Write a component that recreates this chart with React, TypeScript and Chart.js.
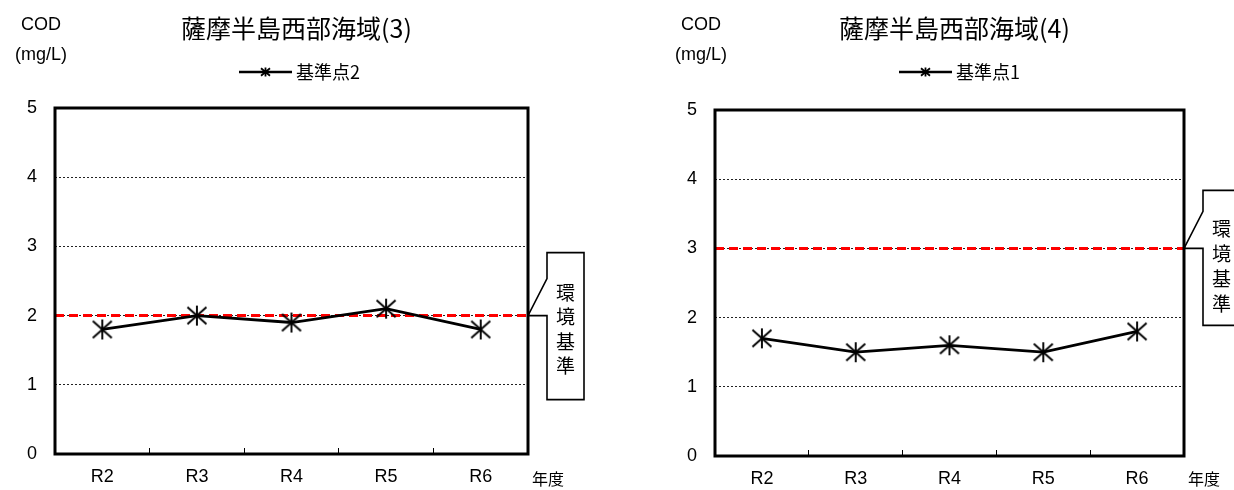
import React, { useEffect, useRef } from 'react';
import { Chart, registerables } from 'chart.js';

Chart.register(...registerables);

// ---- data ----
const YEARS = ['R2', 'R3', 'R4', 'R5', 'R6'];
const Y_MIN = 0;
const Y_MAX = 5;
const Y_STEP = 1;

const TITLE_LEFT = '薩摩半島西部海域(3)';
const SERIES_LEFT = '基準点2';
const VALUES_LEFT = [1.8, 2.0, 1.9, 2.1, 1.8];
const STANDARD_LEFT = 2;

const TITLE_RIGHT = '薩摩半島西部海域(4)';
const SERIES_RIGHT = '基準点1';
const VALUES_RIGHT = [1.7, 1.5, 1.6, 1.5, 1.8];
const STANDARD_RIGHT = 3;

const Y_UNIT_LINES = ['COD', '(mg/L)'];
const X_UNIT_LABEL = '年度';
const STANDARD_LABEL = '環境基準';

const CJK = '"Noto Sans CJK JP", "Noto Sans CJK SC", sans-serif';
const LATIN = '"Liberation Sans", Arial, sans-serif';

function makeAsterisk(r: number, dx: number, dy: number, lw: number) {
  const size = Math.ceil(2 * r + lw + 4);
  const c = document.createElement('canvas');
  c.width = size;
  c.height = size;
  const g = c.getContext('2d')!;
  const m = size / 2;
  g.strokeStyle = '#000';
  g.lineWidth = lw;
  g.beginPath();
  g.moveTo(m, m - r);
  g.lineTo(m, m + r);
  g.moveTo(m - dx, m - dy);
  g.lineTo(m + dx, m + dy);
  g.moveTo(m + dx, m - dy);
  g.lineTo(m - dx, m + dy);
  g.stroke();
  return c;
}

function drawStar(ctx: CanvasRenderingContext2D, x: number, y: number, r: number, dx: number, dy: number, lw: number) {
  ctx.save();
  ctx.strokeStyle = '#000';
  ctx.lineWidth = lw;
  ctx.beginPath();
  ctx.moveTo(x, y - r);
  ctx.lineTo(x, y + r);
  ctx.moveTo(x - dx, y - dy);
  ctx.lineTo(x + dx, y + dy);
  ctx.moveTo(x + dx, y - dy);
  ctx.lineTo(x - dx, y + dy);
  ctx.stroke();
  ctx.restore();
}

type Panel = {
  title: string;
  series: string;
  values: number[];
  standard: number;
  padding: { left: number; right: number; top: number; bottom: number };
  xHeight: number;
  boxTop: number;
  boxBottom: number;
  textStart: number;
  textStep: number;
};

function makeDecor(p: Panel) {
  return {
    id: 'decor',
    afterDraw(chart: any) {
      const { ctx, chartArea: a, scales } = chart;
      const ys = scales.y;
      ctx.save();
      ctx.fillStyle = '#000';

      // title
      const cx = (a.left + a.right) / 2;
      ctx.font = `25px ${CJK}`;
      ctx.textAlign = 'center';
      ctx.textBaseline = 'middle';
      ctx.fillText(p.title, cx + 5, 28);

      // y unit
      ctx.font = `18px ${LATIN}`;
      ctx.fillText(Y_UNIT_LINES[0], a.left - 14, 25);
      ctx.fillText(Y_UNIT_LINES[1], a.left - 14, 55);

      // legend
      const lx = a.left + 184;
      const ly = 72;
      ctx.strokeStyle = '#000';
      ctx.lineWidth = 2.5;
      ctx.beginPath();
      ctx.moveTo(lx, ly);
      ctx.lineTo(lx + 53, ly);
      ctx.stroke();
      drawStar(ctx, lx + 26.5, ly, 4.5, 4.5, 3.8, 1.8);
      ctx.font = `18px ${CJK}`;
      ctx.textAlign = 'left';
      ctx.fillText(p.series, lx + 57, ly);

      // x unit
      ctx.font = `16px ${CJK}`;
      ctx.textAlign = 'center';
      ctx.fillText(X_UNIT_LABEL, a.right + 20, 479);

      // callout for the standard line
      const ty = ys.getPixelForValue(p.standard);
      const bx = a.right + 19;
      const bw = 37;
      ctx.beginPath();
      ctx.moveTo(bx, ty + p.boxBottom);
      ctx.lineTo(bx + bw, ty + p.boxBottom);
      ctx.lineTo(bx + bw, ty + p.boxTop);
      ctx.lineTo(bx, ty + p.boxTop);
      ctx.lineTo(bx, ty - 37);
      ctx.lineTo(a.right, ty);
      ctx.lineTo(bx, ty);
      ctx.closePath();
      ctx.fillStyle = '#fff';
      ctx.fill();
      ctx.lineWidth = 1.6;
      ctx.strokeStyle = '#000';
      ctx.stroke();
      ctx.fillStyle = '#000';
      ctx.font = `19px ${CJK}`;
      ctx.textAlign = 'center';
      Array.from(STANDARD_LABEL).forEach((ch, i) => {
        ctx.fillText(ch, bx + bw / 2, ty + p.textStart + i * p.textStep);
      });

      // plot frame
      ctx.lineWidth = 3;
      ctx.strokeStyle = '#000';
      ctx.strokeRect(a.left, a.top, a.right - a.left, a.bottom - a.top);
      ctx.restore();
    },
  };
}

function ChartPanel({ panel }: { panel: Panel }) {
  const ref = useRef<HTMLCanvasElement>(null);
  useEffect(() => {
    const marker = makeAsterisk(10, 9.5, 8.5, 1.9);
    const chart = new Chart(ref.current!, {
      type: 'line',
      data: {
        labels: YEARS,
        datasets: [
          {
            label: panel.series,
            data: panel.values,
            xAxisID: 'x',
            yAxisID: 'y',
            borderColor: '#000',
            backgroundColor: '#000',
            borderWidth: 2.8,
            pointStyle: marker as any,
            pointRadius: 9,
            pointHoverRadius: 9,
            tension: 0,
            fill: false,
            order: 0,
          },
          {
            label: STANDARD_LABEL,
            data: [
              { x: 0, y: panel.standard },
              { x: 1, y: panel.standard },
            ],
            xAxisID: 'xStd',
            yAxisID: 'y',
            borderColor: '#ff0000',
            borderWidth: 3,
            borderDash: [9, 5],
            pointRadius: 0,
            fill: false,
            order: 1,
          } as any,
        ],
      },
      options: {
        responsive: false,
        animation: false,
        events: [],
        layout: { padding: panel.padding },
        plugins: {
          legend: { display: false },
          title: { display: false },
          tooltip: { enabled: false },
        },
        scales: {
          x: {
            type: 'category',
            offset: true,
            grid: {
              display: true,
              offset: true,
              drawOnChartArea: false,
              drawTicks: true,
              tickLength: -6,
              color: '#000',
              lineWidth: 1,
            },
            border: { display: false },
            ticks: {
              color: '#000',
              font: { family: LATIN, size: 18 },
              padding: 18,
              autoSkip: false,
              maxRotation: 0,
            },
            afterFit: (s: any) => {
              s.height = panel.xHeight;
            },
          },
          xStd: { type: 'linear', display: false, min: 0, max: 1 },
          y: {
            min: Y_MIN,
            max: Y_MAX,
            ticks: {
              stepSize: Y_STEP,
              color: '#000',
              font: { family: LATIN, size: 18 },
              padding: 18,
            },
            grid: { drawTicks: false, color: '#222', lineWidth: 1 },
            border: { display: false, dash: [2, 2] },
            afterFit: (s: any) => {
              s.width = 40;
            },
          },
        } as any,
      },
      plugins: [makeDecor(panel)],
    });
    return () => chart.destroy();
  }, []);
  return (
    <canvas
      ref={ref}
      width={617}
      height={490}
      style={{ display: 'block', width: 617, height: 490 }}
    />
  );
}

const LEFT_PANEL: Panel = {
  title: TITLE_LEFT,
  series: SERIES_LEFT,
  values: VALUES_LEFT,
  standard: STANDARD_LEFT,
  padding: { left: 15, right: 89, top: 108, bottom: 0 },
  xHeight: 36,
  boxTop: -63,
  boxBottom: 84,
  textStart: -23,
  textStep: 24.5,
};

const RIGHT_PANEL: Panel = {
  title: TITLE_RIGHT,
  series: SERIES_RIGHT,
  values: VALUES_RIGHT,
  standard: STANDARD_RIGHT,
  padding: { left: 58, right: 50, top: 110, bottom: 0 },
  xHeight: 34,
  boxTop: -58,
  boxBottom: 77,
  textStart: -20,
  textStep: 25,
};

export default function App() {
  return (
    <div
      style={{
        position: 'absolute',
        left: 0,
        top: 0,
        width: 1234,
        height: 490,
        display: 'flex',
        background: '#fff',
        overflow: 'hidden',
      }}
    >
      <ChartPanel panel={LEFT_PANEL} />
      <ChartPanel panel={RIGHT_PANEL} />
    </div>
  );
}
